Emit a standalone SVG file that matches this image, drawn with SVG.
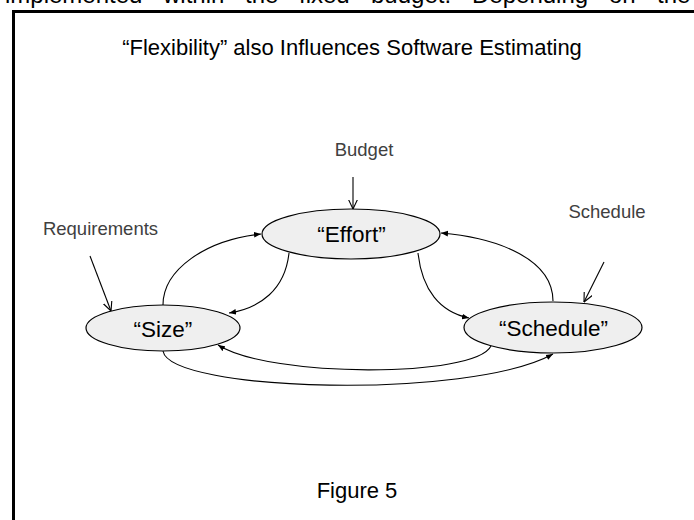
<svg xmlns="http://www.w3.org/2000/svg" width="694" height="520" viewBox="0 0 694 520">
<defs>
<style>
.t{font-family:"Liberation Sans",Arial,sans-serif;fill:#000}
.lbl{font-family:"Liberation Sans",Arial,sans-serif;fill:#404040;font-size:18.5px;text-anchor:middle}
.node{fill:#efefef;stroke:#000;stroke-width:1.2}
.nt{font-family:"Liberation Sans",Arial,sans-serif;font-size:22.5px;text-anchor:middle;fill:#000}
.c{fill:none;stroke:#000;stroke-width:1.1;marker-end:url(#fa)}
.la{fill:none;stroke:#000;stroke-width:1.1;marker-end:url(#oa)}
</style>
<marker id="fa" viewBox="0 0 10 10" refX="10" refY="5" markerWidth="7" markerHeight="7" markerUnits="userSpaceOnUse" orient="auto">
<path d="M0,1 L10,5 L0,9 Z" fill="#000"/>
</marker>
<marker id="oa" viewBox="0 0 10 10" refX="9.5" refY="5" markerWidth="10" markerHeight="10" markerUnits="userSpaceOnUse" orient="auto">
<path d="M0,0.5 L9.5,5 L0,9.5" fill="none" stroke="#000" stroke-width="1.1"/>
</marker>
</defs>
<rect width="694" height="520" fill="#fff"/>
<g id="clipped-text" class="t" font-size="24">
<text x="5" y="3">implemented</text>
<text x="163" y="3">within</text>
<text x="245" y="3">the</text>
<text x="299" y="3">fixed</text>
<text x="371" y="3">budget.</text>
<text x="472" y="3">Depending</text>
<text x="609" y="3">on</text>
<text x="657" y="3">the</text>
</g>
<path id="frame" d="M13.5,520 V11.5 H694" fill="none" stroke="#000" stroke-width="3"/>
<text id="title" class="t" x="352" y="55" font-size="22" text-anchor="middle">“Flexibility” also Influences Software Estimating</text>
<g id="connectors">
<path class="c" d="M163,305 C163,270 205,240 261,234"/>
<path class="c" d="M289,253 C285,290 260,308 229,313"/>
<path class="c" d="M418,253 C422,290 440,312 469,318"/>
<path class="c" d="M553,301 C553,260 500,238 441,233"/>
<path class="c" d="M491,346 C475,378 270,378 218,345"/>
<path class="c" d="M163,351 C170,392 470,400 553,354"/>
<path class="la" d="M353,177 L353,209"/>
<path class="la" d="M90,256 L111,311"/>
<path class="la" d="M604,262 L584,302"/>
</g>
<g id="budget-label"><text class="lbl" x="364" y="156">Budget</text></g>
<g id="requirements-label"><text class="lbl" x="100.5" y="235">Requirements</text></g>
<g id="schedule-label"><text class="lbl" x="607" y="218">Schedule</text></g>
<g id="effort"><ellipse class="node" cx="351" cy="234" rx="89" ry="25"/><text class="nt" x="351.5" y="242">“Effort”</text></g>
<g id="size"><ellipse class="node" cx="163" cy="328" rx="77" ry="23"/><text class="nt" x="163" y="337">“Size”</text></g>
<g id="schedule"><ellipse class="node" cx="553" cy="327.5" rx="89" ry="25.5"/><text class="nt" x="553.5" y="336">“Schedule”</text></g>
<text id="caption" class="t" x="357" y="498" font-size="22" text-anchor="middle">Figure 5</text>
</svg>
